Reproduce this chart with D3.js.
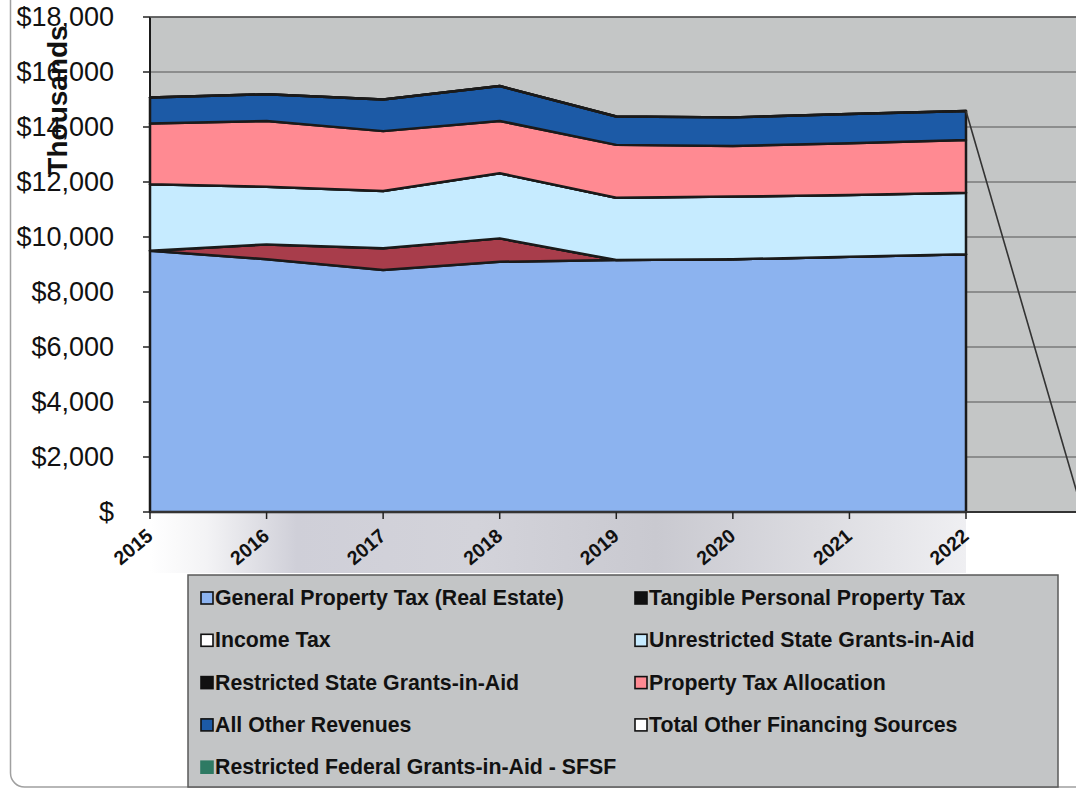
<!DOCTYPE html>
<html>
<head>
<meta charset="utf-8">
<script src="https://cdn.jsdelivr.net/npm/d3@7"></script>
<style>
  html, body { margin: 0; padding: 0; background: #ffffff; }
  svg { display: block; font-family: "Liberation Sans", Arial, sans-serif; }
</style>
</head>
<body>
<svg id="chart" width="1076" height="789"></svg>
<script>
// Revenue by source, in thousands of dollars
const years = ["2015", "2016", "2017", "2018", "2019", "2020", "2021", "2022"];
const generalPropertyTax        = [9500, 9190, 8800, 9100, 9160, 9190, 9280, 9370];
const tangiblePersonalPropTax   = [0, 540, 790, 850, 0, 0, 0, 0];
const incomeTax                 = [0, 0, 0, 0, 0, 0, 0, 0];
const unrestrictedStateGrants   = [2420, 2100, 2080, 2370, 2270, 2280, 2250, 2240];
const restrictedStateGrants     = [0, 0, 0, 0, 0, 0, 0, 0];
const propertyTaxAllocation     = [2210, 2390, 2180, 1900, 1920, 1840, 1880, 1920];
const allOtherRevenues          = [940, 970, 1150, 1270, 1030, 1040, 1060, 1050];
const totalOtherFinancing       = [0, 0, 0, 0, 0, 0, 0, 0];
const restrictedFederalSFSF     = [0, 0, 0, 0, 0, 0, 0, 0];

const seriesNames = [
  "General Property Tax (Real Estate)",
  "Tangible Personal Property Tax",
  "Income Tax",
  "Unrestricted State Grants-in-Aid",
  "Restricted State Grants-in-Aid",
  "Property Tax Allocation",
  "All Other Revenues",
  "Total Other Financing Sources",
  "Restricted Federal Grants-in-Aid - SFSF"
];
const seriesValues = [
  generalPropertyTax, tangiblePersonalPropTax, incomeTax, unrestrictedStateGrants,
  restrictedStateGrants, propertyTaxAllocation, allOtherRevenues, totalOtherFinancing,
  restrictedFederalSFSF
];
const areaColors   = ["#8cb3ef", "#a83d4b", "#ffffff", "#c6ebff", "#1a1a1a", "#ff8a92", "#1c5aa6", "#ffffff", "#2e7a63"];
const swatchColors = ["#8cb3ef", "#111111", "#ffffff", "#c6ebff", "#111111", "#ff8a92", "#1c5aa6", "#ffffff", "#2e7a63"];
const yTicks = [0, 2000, 4000, 6000, 8000, 10000, 12000, 14000, 16000, 18000];

const svg = d3.select("#chart");
const W = 1076, H = 789;
const plotL = 150, plotR = 966, plotT = 17, plotB = 512;

const x = d3.scalePoint().domain(years).range([plotL, plotR]);
const y = d3.scaleLinear().domain([0, 18000]).range([plotB, plotT]);
const step = x.step();

// outer frame of the chart object
svg.append("rect")
  .attr("x", 10.5).attr("y", -30).attr("width", 1100).attr("height", 817)
  .attr("rx", 14).attr("fill", "none").attr("stroke", "#a0a0a0").attr("stroke-width", 1.5);

// plot background
svg.append("rect")
  .attr("x", plotL).attr("y", plotT).attr("width", W - plotL + 10).attr("height", plotB - plotT)
  .attr("fill", "#c4c6c6");

// horizontal gridlines
svg.append("g").selectAll("line")
  .data(yTicks.filter(d => d > 0))
  .join("line")
  .attr("x1", plotL).attr("x2", W + 10)
  .attr("y1", d => y(d)).attr("y2", d => y(d))
  .attr("stroke", "#555").attr("stroke-width", 1.2);

// category axis band
const defs = svg.append("defs");
const grad = defs.append("linearGradient").attr("id", "bandGrad")
  .attr("x1", "0%").attr("x2", "100%").attr("y1", "0%").attr("y2", "0%");
[["0%", "#ffffff"], ["7%", "#f3f3f5"], ["18%", "#cfcfd8"], ["40%", "#d3d3da"],
 ["62%", "#c9c9d0"], ["82%", "#dcdce1"], ["100%", "#efeff2"]]
  .forEach(([o, c]) => grad.append("stop").attr("offset", o).attr("stop-color", c));
svg.append("rect")
  .attr("x", plotL).attr("y", plotB).attr("width", plotR - plotL).attr("height", 61)
  .attr("fill", "url(#bandGrad)");

// stacked areas
const table = years.map((yr, i) => {
  const row = { year: yr };
  seriesNames.forEach((n, k) => row[n] = seriesValues[k][i]);
  return row;
});
const stacked = d3.stack().keys(seriesNames)(table);
const area = d3.area()
  .x(d => x(d.data.year))
  .y0(d => y(d[0]))
  .y1(d => y(d[1]));

svg.append("g").selectAll("path")
  .data(stacked)
  .join("path")
  .attr("d", area)
  .attr("fill", (d, i) => areaColors[i])
  .attr("stroke", "#1a1a1a")
  .attr("stroke-width", 2.5)
  .attr("stroke-linejoin", "round");

// total line continuing past the last year
const last = years.length - 1;
const lastTotal = stacked[stacked.length - 1][last][1];
svg.append("line")
  .attr("x1", x(years[last])).attr("y1", y(lastTotal))
  .attr("x2", x(years[last]) + step).attr("y2", y(0))
  .attr("stroke", "#333").attr("stroke-width", 1.6);

// axes lines
svg.append("line").attr("x1", plotL).attr("x2", plotL).attr("y1", plotT).attr("y2", plotB)
  .attr("stroke", "#1a1a1a").attr("stroke-width", 2);
svg.append("line").attr("x1", plotL).attr("x2", W + 10).attr("y1", plotT).attr("y2", plotT)
  .attr("stroke", "#555").attr("stroke-width", 1.5);
svg.append("line").attr("x1", plotL).attr("x2", W + 10).attr("y1", plotB).attr("y2", plotB)
  .attr("stroke", "#333").attr("stroke-width", 2);

// y ticks and labels
const yg = svg.append("g");
yg.selectAll("line").data(yTicks).join("line")
  .attr("x1", plotL - 7).attr("x2", plotL).attr("y1", d => y(d)).attr("y2", d => y(d))
  .attr("stroke", "#222").attr("stroke-width", 1.5);
yg.selectAll("text").data(yTicks).join("text")
  .attr("x", 114).attr("y", d => y(d))
  .attr("text-anchor", "end").attr("dominant-baseline", "central")
  .attr("font-size", 27).attr("fill", "#111")
  .text(d => d === 0 ? "$" : "$" + d3.format(",")(d));

// y title
svg.append("text")
  .attr("transform", "translate(67,100) rotate(-90)")
  .attr("text-anchor", "middle")
  .attr("font-size", 28).attr("font-weight", "bold").attr("fill", "#111")
  .text("Thousands");

// x ticks and labels
const xg = svg.append("g");
xg.selectAll("line").data(years).join("line")
  .attr("x1", d => x(d)).attr("x2", d => x(d)).attr("y1", plotB).attr("y2", plotB + 7)
  .attr("stroke", "#222").attr("stroke-width", 1.5);
xg.selectAll("text").data(years).join("text")
  .attr("transform", d => `translate(${x(d) + 4},538) rotate(-40)`)
  .attr("text-anchor", "end")
  .attr("font-size", 19.5).attr("font-weight", "bold").attr("fill", "#111")
  .text(d => d);

// legend
const lg = svg.append("g");
lg.append("rect")
  .attr("x", 188).attr("y", 575).attr("width", 870).attr("height", 212)
  .attr("fill", "#c3c5c6").attr("stroke", "#5a5a5a").attr("stroke-width", 1.5);
const colX = [201, 635];
const rowY0 = 598, rowStep = 42.3;
const items = lg.selectAll("g.item")
  .data(seriesNames)
  .join("g")
  .attr("class", "item")
  .attr("transform", (d, i) => `translate(${colX[i % 2]},${rowY0 + Math.floor(i / 2) * rowStep})`);
items.append("rect")
  .attr("x", 0).attr("y", -6).attr("width", 12).attr("height", 12)
  .attr("fill", (d, i) => swatchColors[i])
  .attr("stroke", (d, i) => i === 8 ? swatchColors[i] : "#111")
  .attr("stroke-width", 1.6);
items.append("text")
  .attr("x", 14).attr("y", 0).attr("dominant-baseline", "central")
  .attr("font-size", 21.3).attr("font-weight", "bold").attr("fill", "#111")
  .text(d => d);
</script>
</body>
</html>
